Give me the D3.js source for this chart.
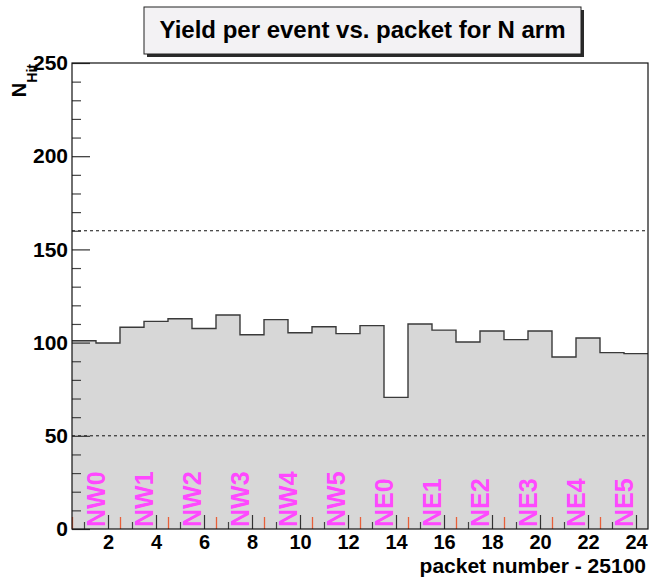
<!DOCTYPE html>
<html>
<head>
<meta charset="utf-8">
<script src="https://cdn.jsdelivr.net/npm/d3@7"></script>
<style>
  html, body { margin: 0; padding: 0; background: #ffffff; }
  svg { display: block; }
  text { font-family: "Liberation Sans", Arial, Helvetica, sans-serif; font-weight: bold; }
</style>
</head>
<body>
<svg id="chart" width="650" height="580"></svg>
<script>
// Packet index (offset from 25100) and yield per event for each packet
const packets = d3.range(1, 25);
const yields = [101.0, 99.8, 108.2, 111.4, 112.8, 107.6, 114.8, 104.2, 112.3, 105.3, 108.5, 104.8,
                109.1, 70.6, 110.0, 106.7, 100.3, 106.2, 101.6, 106.2, 92.3, 102.5, 94.6, 94.1];

// Sector names, one per pair of packets
const sectorNames = ["NW0", "NW1", "NW2", "NW3", "NW4", "NW5", "NE0", "NE1", "NE2", "NE3", "NE4", "NE5"];
const sectorCenters = [1.5, 3.5, 5.5, 7.5, 9.5, 11.5, 13.5, 15.5, 17.5, 19.5, 21.5, 23.5];
const sectorEdges = [0.5, 2.5, 4.5, 6.5, 8.5, 10.5, 12.5, 14.5, 16.5, 18.5, 20.5, 22.5];

// Axis ticks and horizontal reference levels
const xMajorTicks = [2, 4, 6, 8, 10, 12, 14, 16, 18, 20, 22, 24];
const xMinorTicks = [1, 3, 5, 7, 9, 11, 13, 15, 17, 19, 21, 23];
const yMajorTicks = [0, 50, 100, 150, 200, 250];
const yMinorTicks = d3.range(10, 250, 10).filter(v => v % 50 !== 0);
const refLevels = [50, 160];

const titleText = "Yield per event vs. packet for N arm";
const xTitle = "packet number - 25100";

const plotLeft = 72, plotRight = 648, plotTop = 63, plotBottom = 529;

const svg = d3.select("#chart");

const x = d3.scaleLinear().domain([0.5, 24.5]).range([plotLeft, plotRight]);
const y = d3.scaleLinear().domain([0, 250]).range([plotBottom, plotTop]);

// Step outline of the histogram
const stepPts = [];
packets.forEach((p, i) => {
  stepPts.push([p - 0.5, yields[i]]);
  stepPts.push([p + 0.5, yields[i]]);
});

const area = d3.area()
  .x(d => x(d[0]))
  .y0(y(0))
  .y1(d => y(d[1]));
const line = d3.line()
  .x(d => x(d[0]))
  .y(d => y(d[1]));

svg.append("path")
  .datum(stepPts)
  .attr("d", area)
  .attr("fill", "#d7d7d7");

svg.append("path")
  .datum(stepPts)
  .attr("d", line)
  .attr("fill", "none")
  .attr("stroke", "#3a3a3a")
  .attr("stroke-width", 1.4);

// Dashed reference levels
svg.selectAll("line.ref")
  .data(refLevels)
  .join("line")
  .attr("class", "ref")
  .attr("x1", plotLeft).attr("x2", plotRight)
  .attr("y1", d => y(d)).attr("y2", d => y(d))
  .attr("stroke", "#111")
  .attr("stroke-width", 1)
  .attr("stroke-dasharray", "3,3");

// Y axis: labelled major ticks and minor ticks, drawn inward
const yAxis = svg.append("g")
  .attr("transform", `translate(${plotLeft},0)`)
  .call(d3.axisLeft(y).tickValues(yMajorTicks).tickSizeInner(-18).tickSizeOuter(0).tickPadding(4).tickFormat(d3.format("d")));
yAxis.select(".domain").remove();
yAxis.selectAll("line").attr("stroke", "#333").attr("stroke-width", 1.2);
yAxis.selectAll("text").attr("font-size", 21).attr("fill", "#000")
  .attr("font-family", "Liberation Sans, Arial, sans-serif").attr("font-weight", "bold");

const yMinor = svg.append("g")
  .attr("transform", `translate(${plotLeft},0)`)
  .call(d3.axisLeft(y).tickValues(yMinorTicks).tickSizeInner(-9).tickSizeOuter(0).tickFormat(""));
yMinor.select(".domain").remove();
yMinor.selectAll("line").attr("stroke", "#444").attr("stroke-width", 1.2);

// X axis: labelled even packets, minor odd packets
const xAxis = svg.append("g")
  .attr("transform", `translate(0,${plotBottom})`)
  .call(d3.axisBottom(x).tickValues(xMajorTicks).tickSizeInner(-14).tickSizeOuter(0).tickPadding(6).tickFormat(d3.format("d")));
xAxis.select(".domain").remove();
xAxis.selectAll("line").attr("stroke", "#333").attr("stroke-width", 1.2);
xAxis.selectAll("text").attr("font-size", 20).attr("fill", "#000")
  .attr("font-family", "Liberation Sans, Arial, sans-serif").attr("font-weight", "bold");

const xMinor = svg.append("g")
  .attr("transform", `translate(0,${plotBottom})`)
  .call(d3.axisBottom(x).tickValues(xMinorTicks).tickSizeInner(-7).tickSizeOuter(0).tickFormat(""));
xMinor.select(".domain").remove();
xMinor.selectAll("line").attr("stroke", "#444").attr("stroke-width", 1.2);

// Sector boundary markers
const edgeAxis = svg.append("g")
  .attr("transform", `translate(0,${plotBottom})`)
  .call(d3.axisBottom(x).tickValues(sectorEdges).tickSizeInner(-12).tickSizeOuter(0).tickFormat(""));
edgeAxis.select(".domain").remove();
edgeAxis.selectAll("line").attr("stroke", "#e8603a").attr("stroke-width", 1.3);

// Frame around the plot area
svg.append("rect")
  .attr("x", plotLeft).attr("y", plotTop)
  .attr("width", plotRight - plotLeft).attr("height", plotBottom - plotTop)
  .attr("fill", "none")
  .attr("stroke", "#111")
  .attr("stroke-width", 1.2);

// Sector names, vertical, standing on the axis
const sectorSize = 25;
svg.selectAll("text.sector")
  .data(sectorNames)
  .join("text")
  .attr("class", "sector")
  .attr("transform", (d, i) => `translate(${x(sectorCenters[i]) + 0.36 * sectorSize},${plotBottom - 2}) rotate(-90)`)
  .attr("font-size", sectorSize)
  .attr("fill", "#ff48ff")
  .text(d => d);

// Axis titles
svg.append("text")
  .attr("x", 646).attr("y", 573)
  .attr("text-anchor", "end")
  .attr("font-size", 21)
  .attr("fill", "#000")
  .text(xTitle);

const yTitle = svg.append("text")
  .attr("transform", `translate(26,64) rotate(-90)`)
  .attr("text-anchor", "end")
  .attr("fill", "#000");
yTitle.append("tspan").attr("font-size", 20).text("N");
yTitle.append("tspan").attr("font-size", 14).attr("dy", 11).text("Hit");

// Title box with drop shadow
const box = { x: 144, y: 7, w: 437, h: 47 };
svg.append("rect")
  .attr("x", box.x + 3).attr("y", box.y + 3)
  .attr("width", box.w).attr("height", box.h)
  .attr("fill", "#2a2a2a");
svg.append("rect")
  .attr("x", box.x).attr("y", box.y)
  .attr("width", box.w).attr("height", box.h)
  .attr("fill", "#f3f2f4")
  .attr("stroke", "#222")
  .attr("stroke-width", 1);
svg.append("text")
  .attr("x", box.x + box.w / 2).attr("y", 38)
  .attr("text-anchor", "middle")
  .attr("font-size", 24)
  .attr("fill", "#000")
  .text(titleText);
</script>
</body>
</html>
